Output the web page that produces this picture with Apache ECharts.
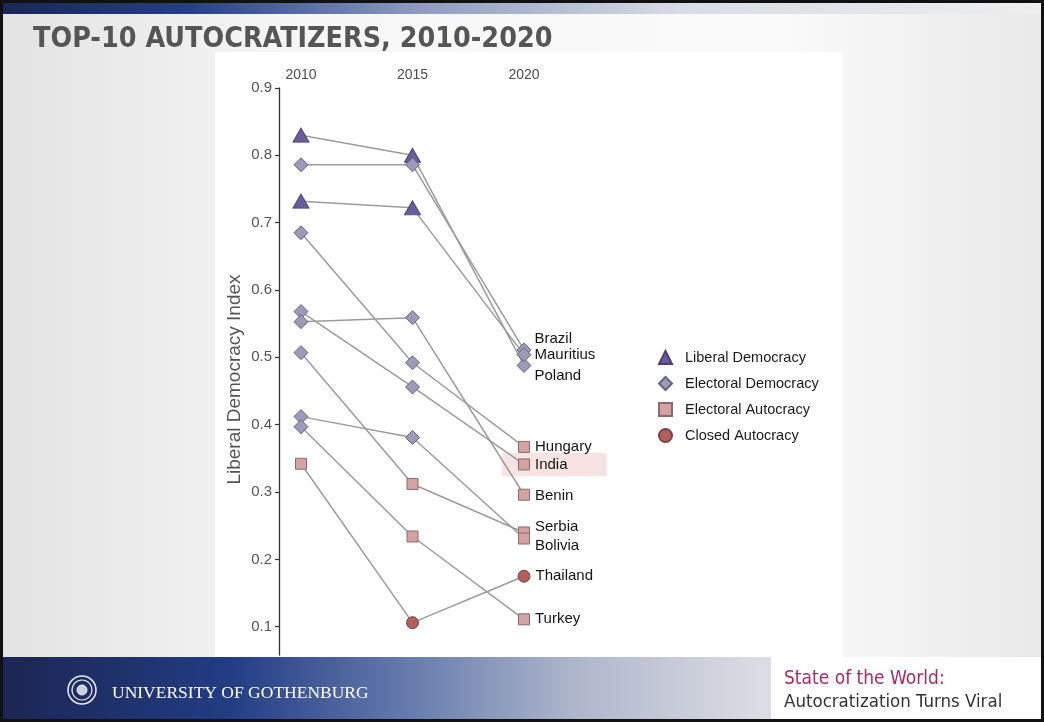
<!DOCTYPE html>
<html><head><meta charset="utf-8">
<script src="https://cdn.jsdelivr.net/npm/echarts@6/dist/echarts.min.js"></script>
<style>html,body{margin:0;padding:0;background:#fff}#c{width:1044px;height:722px}</style>
</head><body><div id="c"></div>
<script>
// ---- data ----
const years = [2010, 2015, 2020];
const yTicks = [0.1, 0.2, 0.3, 0.4, 0.5, 0.6, 0.7, 0.8, 0.9];
const countries = ['Poland','Brazil','Mauritius','Hungary','India','Benin','Serbia','Bolivia','Turkey','Thailand'];
const v2010 = [0.830, 0.786, 0.732, 0.685, 0.568, 0.553, 0.507, 0.412, 0.397, 0.342];
const v2015 = [0.800, 0.786, 0.722, 0.492, 0.456, 0.559, 0.312, 0.381, 0.234, 0.106];
const v2020 = [0.488, 0.511, 0.504, 0.367, 0.341, 0.296, 0.240, 0.231, 0.111, 0.175];
const r2010 = ['LD','ED','LD','ED','ED','ED','ED','ED','ED','EA'];
const r2015 = ['LD','ED','LD','ED','ED','ED','EA','ED','EA','CA'];
const r2020 = ['ED','ED','ED','EA','EA','EA','EA','EA','EA','CA'];
const regimeCodes = ['LD','ED','EA','CA'];
const regimeNames = ['Liberal Democracy','Electoral Democracy','Electoral Autocracy','Closed Autocracy'];
const highlighted = 'India';

// ---- styles ----
const regimeStyle = {
  LD: {symbol:'triangle', size:[16,14], color:'#6a5b9c', border:'#4b4175'},
  ED: {symbol:'diamond',  size:14,      color:'#9d99b9', border:'#66637e'},
  EA: {symbol:'rect',     size:11,      color:'#d3a3a3', border:'#8e6a6a'},
  CA: {symbol:'circle',   size:12,      color:'#b1605f', border:'#7b4241'}
};
const labelDy = {Poland:10, Brazil:-11, Mauritius:0, Hungary:0, India:0, Benin:1, Serbia:-6, Bolivia:7, Turkey:0, Thailand:0};
const FONT = 'Liberation Sans, Arial, sans-serif';

const valsByYear = [v2010, v2015, v2020];
const regByYear = [r2010, r2015, r2020];

const series = [];
countries.forEach((c, i) => {
  series.push({
    type:'line', name:'line-'+c, z:2, symbol:'none', silent:true,
    lineStyle:{color:'#9b9b9b', width:1.5},
    data: years.map((y, k) => [y, valsByYear[k][i]])
  });
});
regimeCodes.forEach((code, ri) => {
  const st = regimeStyle[code];
  const data = [];
  years.forEach((y, k) => {
    countries.forEach((c, i) => {
      if (regByYear[k][i] !== code) return;
      const item = {value:[y, valsByYear[k][i]]};
      if (k === 2) {
        item.label = {show:true, formatter:c, position:'right', distance:code === 'ED' ? 3 : 5,
          offset:[0, labelDy[c]], color:'#141414', fontSize:15, fontFamily:FONT};
      }
      data.push(item);
    });
  });
  series.push({
    type:'scatter', name:regimeNames[ri], z:4, symbol:st.symbol, symbolSize:st.size,
    itemStyle:{color:st.color, borderColor:st.border, borderWidth:1, opacity:1},
    label:{show:false}, emphasis:{disabled:true},
    data
  });
});
const hi = countries.indexOf(highlighted);
series.push({
  type:'scatter', name:'highlight', z:1, silent:true, data:[],
  markArea:{silent:true, itemStyle:{color:'#f7e3e3'},
    data:[[{coord:[2019.02, v2020[hi] + 0.0175]}, {coord:[2023.7, v2020[hi] - 0.0175]}]]}
});

const chart = echarts.init(document.getElementById('c'), null, {renderer:'canvas'});
chart.setOption({
  animation:false,
  backgroundColor:'#ffffff',
  grid:{left:301, top:88, width:312.2, bottom:67, containLabel:false},
  xAxis:{type:'value', position:'top', min:2010, max:2024,
    axisLine:{show:false}, axisTick:{show:false}, splitLine:{show:false},
    axisLabel:{customValues:years, color:'#4d4d4d', fontSize:14, margin:6,
      fontFamily:FONT, formatter:v => String(v)}},
  yAxis:{type:'value', min:0.058, max:0.9, offset:22,
    name:'Liberal Democracy Index', nameLocation:'middle', nameGap:35,
    nameTextStyle:{color:'#555555', fontSize:19, fontFamily:FONT, padding:[0,16,0,0]},
    axisLine:{show:true, lineStyle:{color:'#333', width:1.3}},
    axisTick:{show:true, customValues:yTicks, length:4, lineStyle:{color:'#333', width:1.2}},
    splitLine:{show:false},
    axisLabel:{customValues:yTicks, color:'#555555', fontSize:15, margin:7,
      fontFamily:FONT, formatter:v => v.toFixed(1)}},
  legend:{orient:'vertical', left:653, top:345, itemWidth:13, itemHeight:13, itemGap:11,
    textStyle:{color:'#1a1a1a', fontSize:14.5, fontFamily:FONT, padding:[0,0,0,8]},
    selectedMode:false,
    data: regimeNames.map((n, ri) => ({name:n, icon: regimeStyle[regimeCodes[ri]].symbol}))},
  graphic:[
    {type:'rect', z:-10, shape:{x:0,y:0,width:1044,height:722},
      style:{fill:new echarts.graphic.LinearGradient(0,0,1,0,[
        {offset:0,color:'#e3e3e3'},{offset:0.3,color:'#f7f7f7'},{offset:0.75,color:'#fafafa'},{offset:1,color:'#e9e9e9'}])}},
    {type:'rect', z:-9, shape:{x:0,y:0,width:1044,height:14},
      style:{fill:new echarts.graphic.LinearGradient(0,0,1,0,[
        {offset:0,color:'#1a2654'},{offset:0.18,color:'#243f88'},{offset:0.4,color:'#8d9bc0'},{offset:0.65,color:'#d9dce4'},{offset:1,color:'#eeeeee'}])}},
    {type:'rect', z:-8, shape:{x:215,y:52,width:628,height:605}, style:{fill:'#ffffff'}},
    {type:'text', z:-7, style:{x:33, y:40, text:'TOP-10 AUTOCRATIZERS, 2010-2020', verticalAlign:'middle',
      fill:'#555555', fontSize:28.4, fontWeight:'bold', fontFamily:'DejaVu Sans Condensed, Open Sans, sans-serif'}},
    {type:'rect', z:50, shape:{x:0,y:657,width:1044,height:62},
      style:{fill:new echarts.graphic.LinearGradient(0,0,1,0,[
        {offset:0,color:'#1c2552'},{offset:0.22,color:'#223d84'},{offset:0.4,color:'#6a7eae'},{offset:0.55,color:'#aeb6cb'},{offset:0.73,color:'#dcdde3'},{offset:1,color:'#e6e6e6'}])}},
    {type:'rect', z:51, shape:{x:771,y:657,width:273,height:62}, style:{fill:'#ffffff'}},
    {type:'circle', z:52, shape:{cx:82,cy:690,r:14}, style:{fill:'none', stroke:'#e8ecf5', lineWidth:1.5}},
    {type:'circle', z:52, shape:{cx:82,cy:690,r:10}, style:{fill:'none', stroke:'#e8ecf5', lineWidth:1.2}},
    {type:'circle', z:52, shape:{cx:82,cy:690,r:5}, style:{fill:'#c9d0e2', stroke:'#e8ecf5', lineWidth:1}},
    {type:'text', z:52, style:{x:112, y:693, text:'UNIVERSITY OF GOTHENBURG', verticalAlign:'middle',
      fill:'#ffffff', fontSize:17.5, fontFamily:'Liberation Serif, DejaVu Serif, serif'}},
    {type:'text', z:52, style:{x:784, y:679, text:'State of the World:', verticalAlign:'middle',
      fill:'#a82a68', fontSize:19, fontFamily:'Liberation Sans Narrow, DejaVu Sans Condensed, sans-serif'}},
    {type:'text', z:52, style:{x:784, y:702, text:'Autocratization Turns Viral', verticalAlign:'middle',
      fill:'#333333', fontSize:18.5, fontFamily:'Liberation Sans Narrow, DejaVu Sans Condensed, sans-serif'}},
    {type:'rect', z:100, shape:{x:1.5,y:1.5,width:1041,height:719}, style:{fill:'none', stroke:'#111111', lineWidth:3}}
  ],
  series
});
</script></body></html>
